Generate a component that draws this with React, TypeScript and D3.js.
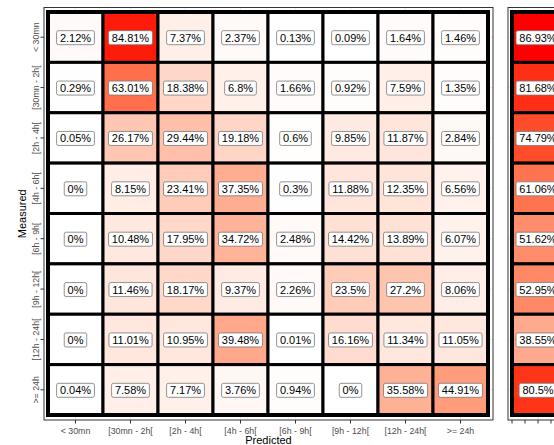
import React, { useEffect, useRef } from "react";
import * as d3 from "d3";

const predicted = ["< 30mn", "[30mn - 2h[", "[2h - 4h[", "[4h - 6h[", "[6h - 9h[", "[9h - 12h[", "[12h - 24h[", ">= 24h"];
const measured = ["< 30mn", "[30mn - 2h[", "[2h - 4h[", "[4h - 6h[", "[6h - 9h[", "[9h - 12h[", "[12h - 24h[", ">= 24h"];

const row0 = [2.12, 84.81, 7.37, 2.37, 0.13, 0.09, 1.64, 1.46];
const row1 = [0.29, 63.01, 18.38, 6.8, 1.66, 0.92, 7.59, 1.35];
const row2 = [0.05, 26.17, 29.44, 19.18, 0.6, 9.85, 11.87, 2.84];
const row3 = [0, 8.15, 23.41, 37.35, 0.3, 11.88, 12.35, 6.56];
const row4 = [0, 10.48, 17.95, 34.72, 2.48, 14.42, 13.89, 6.07];
const row5 = [0, 11.46, 18.17, 9.37, 2.26, 23.5, 27.2, 8.06];
const row6 = [0, 11.01, 10.95, 39.48, 0.01, 16.16, 11.34, 11.05];
const row7 = [0.04, 7.58, 7.17, 3.76, 0.94, 0, 35.58, 44.91];
const rows = [row0, row1, row2, row3, row4, row5, row6, row7];

const rates = [86.93, 81.68, 74.79, 61.06, 51.62, 52.95, 38.55, 80.5];
const rightTicks = [0.5, 0.75, 1, 1.25, 1.5];

const FONT = "'Liberation Sans', Arial, Helvetica, sans-serif";

export default function App() {
  const ref = useRef<SVGSVGElement>(null);

  useEffect(() => {
    const svg = d3.select(ref.current);
    svg.selectAll("*").remove();

    const x = d3.scaleBand().domain(predicted).range([48, 488]);
    const y = d3.scaleBand().domain(measured).range([12, 415]);
    const bw = x.bandwidth();
    const bh = y.bandwidth();
    const maxV = d3.max([...rows.flat(), ...rates]) as number;
    const color = d3
      .scaleLinear<string>()
      .domain([0, maxV])
      .range(["#FFFFFF", "#FF0000"])
      .interpolate(d3.interpolateLab);

    const panel = { x0: 44, x1: 493, y0: 7.5, y1: 420 };
    const xr = d3.scaleLinear().domain([0.5, 1.5]).range([512, 564]);
    const rpanel = { x0: 508, x1: 568, y0: 7.5, y1: 420 };

    const root = svg.append("g");

    // panel backgrounds + gridlines
    [panel, rpanel].forEach((p) => {
      root.append("rect").attr("x", p.x0).attr("y", p.y0).attr("width", p.x1 - p.x0).attr("height", p.y1 - p.y0).attr("fill", "#FFFFFF");
    });
    predicted.forEach((p) => {
      const cx = (x(p) as number) + bw / 2;
      root.append("line").attr("x1", cx).attr("x2", cx).attr("y1", panel.y0).attr("y2", panel.y1).attr("stroke", "#EBEBEB").attr("stroke-width", 1);
    });
    measured.forEach((m) => {
      const cy = (y(m) as number) + bh / 2;
      root.append("line").attr("x1", panel.x0).attr("x2", panel.x1).attr("y1", cy).attr("y2", cy).attr("stroke", "#EBEBEB").attr("stroke-width", 1);
      root.append("line").attr("x1", rpanel.x0).attr("x2", rpanel.x1).attr("y1", cy).attr("y2", cy).attr("stroke", "#EBEBEB").attr("stroke-width", 1);
    });
    rightTicks.forEach((t) => {
      root.append("line").attr("x1", xr(t)).attr("x2", xr(t)).attr("y1", rpanel.y0).attr("y2", rpanel.y1).attr("stroke", "#EBEBEB").attr("stroke-width", 1);
    });

    // main tiles
    rows.forEach((r, i) => {
      r.forEach((v, j) => {
        root.append("rect")
          .attr("x", x(predicted[j]) as number)
          .attr("y", y(measured[i]) as number)
          .attr("width", bw)
          .attr("height", bh)
          .attr("fill", color(v))
          .attr("stroke", "#000")
          .attr("stroke-width", 3);
      });
    });
    root.append("rect").attr("x", 48).attr("y", 12).attr("width", 440).attr("height", 403).attr("fill", "none").attr("stroke", "#000").attr("stroke-width", 4);

    // right tiles
    rates.forEach((v, i) => {
      root.append("rect")
        .attr("x", xr(0.5))
        .attr("y", y(measured[i]) as number)
        .attr("width", xr(1.5) - xr(0.5))
        .attr("height", bh)
        .attr("fill", color(v))
        .attr("stroke", "#000")
        .attr("stroke-width", 3);
    });
    root.append("rect").attr("x", xr(0.5)).attr("y", 12).attr("width", xr(1.5) - xr(0.5)).attr("height", 403).attr("fill", "none").attr("stroke", "#000").attr("stroke-width", 4);

    // panel borders
    [panel, rpanel].forEach((p) => {
      root.append("rect").attr("x", p.x0).attr("y", p.y0).attr("width", p.x1 - p.x0).attr("height", p.y1 - p.y0)
        .attr("fill", "none").attr("stroke", "#333333").attr("stroke-width", 1);
    });

    const label = (cx: number, cy: number, txt: string) => {
      const g = root.append("g");
      const rect = g.append("rect");
      const t = g.append("text")
        .attr("x", cx)
        .attr("y", cy + 4)
        .attr("text-anchor", "middle")
        .attr("font-family", FONT)
        .attr("font-size", 11)
        .attr("fill", "#000")
        .text(txt);
      const w = (t.node() as SVGTextElement).getComputedTextLength();
      rect.attr("x", cx - w / 2 - 3.3).attr("y", cy - 7).attr("width", w + 6.6).attr("height", 14)
        .attr("rx", 1.8).attr("fill", "#FFFFFF").attr("stroke", "#777").attr("stroke-width", 0.8);
    };

    rows.forEach((r, i) => {
      r.forEach((v, j) => {
        label((x(predicted[j]) as number) + bw / 2, (y(measured[i]) as number) + bh / 2 + 0.5, `${v}%`);
      });
    });
    rates.forEach((v, i) => {
      label(xr(1), (y(measured[i]) as number) + bh / 2 + 0.5, `${v}%`);
    });

    // x axis ticks + labels
    predicted.forEach((p) => {
      const cx = (x(p) as number) + bw / 2;
      root.append("line").attr("x1", cx).attr("x2", cx).attr("y1", 420).attr("y2", 423.5).attr("stroke", "#333").attr("stroke-width", 1);
      root.append("text").attr("x", cx).attr("y", 433.5).attr("text-anchor", "middle")
        .attr("font-family", FONT).attr("font-size", 8.8).attr("fill", "#4D4D4D").text(p);
    });
    rightTicks.forEach((t) => {
      root.append("line").attr("x1", xr(t)).attr("x2", xr(t)).attr("y1", 420).attr("y2", 423.5).attr("stroke", "#333").attr("stroke-width", 1);
    });
    root.append("text").attr("x", (panel.x0 + panel.x1) / 2).attr("y", 444).attr("text-anchor", "middle")
      .attr("font-family", FONT).attr("font-size", 11).attr("fill", "#000").text("Predicted");

    // y axis ticks + labels
    measured.forEach((m) => {
      const cy = (y(m) as number) + bh / 2;
      root.append("line").attr("x1", 40.5).attr("x2", 44).attr("y1", cy).attr("y2", cy).attr("stroke", "#333").attr("stroke-width", 1);
      root.append("text").attr("transform", `translate(38.8,${cy}) rotate(-90)`).attr("text-anchor", "middle")
        .attr("font-family", FONT).attr("font-size", 8.8).attr("fill", "#4D4D4D").text(m);
    });
    root.append("text").attr("transform", `translate(25.5,${(panel.y0 + panel.y1) / 2}) rotate(-90)`).attr("text-anchor", "middle")
      .attr("font-family", FONT).attr("font-size", 11).attr("fill", "#000").text("Measured");
  }, []);

  return (
    <svg
      ref={ref}
      width={554}
      height={445}
      style={{ position: "absolute", left: 0, top: 0, background: "#FFFFFF" }}
    />
  );
}
